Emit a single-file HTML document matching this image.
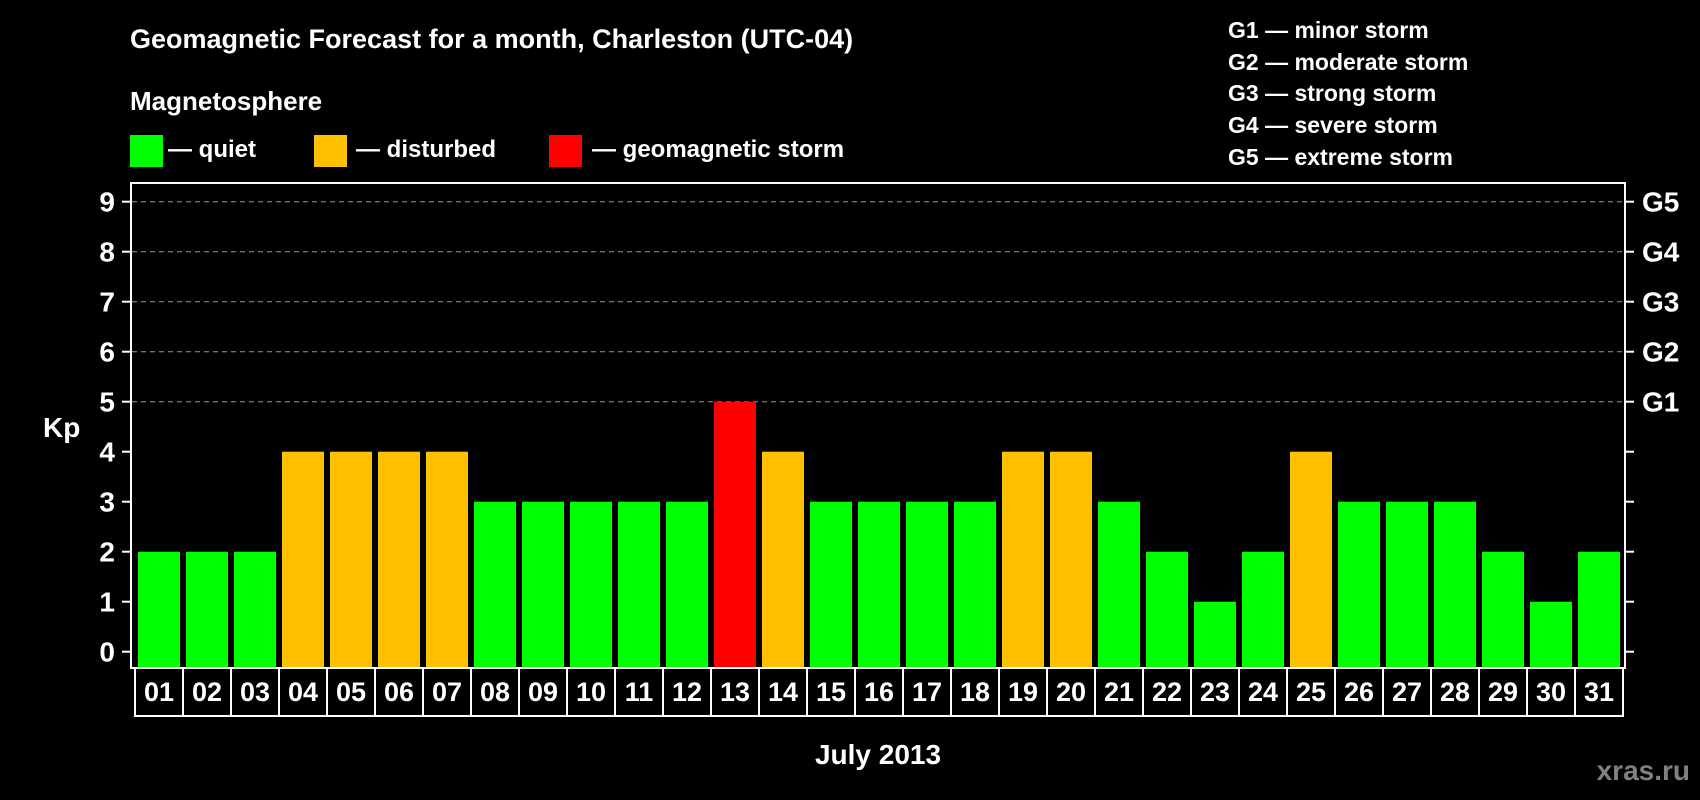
<!DOCTYPE html>
<html><head><meta charset="utf-8"><style>
html,body{margin:0;padding:0;background:#000;}
svg{display:block;font-family:"Liberation Sans",Arial,sans-serif;font-weight:bold;}
</style></head><body>
<svg id="chart" width="1700" height="800" viewBox="0 0 1700 800" xmlns="http://www.w3.org/2000/svg">
<rect width="1700" height="800" fill="#000"/>
<text x="130" y="48" fill="#fff" font-size="27">Geomagnetic Forecast for a month, Charleston (UTC-04)</text>
<text x="130" y="110" fill="#fff" font-size="26">Magnetosphere</text>
<g>
<rect x="130" y="135" width="33" height="32" fill="#00ff00"/>
<text x="168" y="157" fill="#fff" font-size="24">— quiet</text>
<rect x="314" y="135" width="33" height="32" fill="#ffc000"/>
<text x="356" y="157" fill="#fff" font-size="24">— disturbed</text>
<rect x="549" y="135" width="33" height="32" fill="#ff0000"/>
<text x="592" y="157" fill="#fff" font-size="24">— geomagnetic storm</text>
</g>
<g fill="#fff" font-size="23">
<text x="1228" y="38">G1 — minor storm</text>
<text x="1228" y="70">G2 — moderate storm</text>
<text x="1228" y="101">G3 — strong storm</text>
<text x="1228" y="133">G4 — severe storm</text>
<text x="1228" y="165">G5 — extreme storm</text>
</g>
<text x="43" y="437" fill="#fff" font-size="28">Kp</text>
<text x="878" y="764" fill="#fff" font-size="28" text-anchor="middle">July 2013</text>
<text x="1690" y="780" fill="#808080" font-size="28" text-anchor="end">xras.ru</text>
<g id="grid"></g>
<g id="bars"></g>
<g id="labels"></g>
<rect x="131" y="183" width="1494" height="485" fill="none" stroke="#fff" stroke-width="2"/>
<g id="axes"></g>
</svg>
<script>
const days = ["01","02","03","04","05","06","07","08","09","10","11","12","13","14","15","16","17","18","19","20","21","22","23","24","25","26","27","28","29","30","31"];
const kpValues = [2,2,2,4,4,4,4,3,3,3,3,3,5,4,3,3,3,3,4,4,3,2,1,2,4,3,3,3,2,1,2];
const yTicks = [0,1,2,3,4,5,6,7,8,9];
const gLabels = ["G1","G2","G3","G4","G5"];
const gLevels = [5,6,7,8,9];

const NS = "http://www.w3.org/2000/svg";
const y0 = 651.7, unit = 50, plotBottom = 668, x0 = 138, pitch = 48, bw = 42;
function yScale(v){ return y0 - v*unit; }
function xScale(i){ return x0 + i*pitch; }
function colorFor(v){ return v >= 5 ? "#ff0000" : (v >= 4 ? "#ffc000" : "#00ff00"); }
function mk(tag, attrs, parent){ const e=document.createElementNS(NS,tag); for(const k in attrs) e.setAttribute(k,attrs[k]); parent.appendChild(e); return e; }

const grid=document.getElementById('grid'), bars=document.getElementById('bars'), labels=document.getElementById('labels'), axes=document.getElementById('axes');

gLevels.forEach((lv,i)=>{
  const y=yScale(lv);
  const l=mk('line',{x1:132,x2:1624,y1:y,y2:y,stroke:'#999','stroke-width':1,'stroke-dasharray':'5,4'},grid);
  
  
  const t=mk('text',{x:1642,y:y+10,fill:'#fff','font-size':28},axes);
  t.textContent=gLabels[i];
  
  
});

yTicks.forEach(v=>{
  const y=yScale(v);
  const a=mk('line',{x1:122,x2:131,y1:y,y2:y,stroke:'#fff','stroke-width':2},axes);
  
  
  const b=mk('line',{x1:1625,x2:1634,y1:y,y2:y,stroke:'#fff','stroke-width':2},axes);
  
  
  const t=mk('text',{x:115,y:y+10,fill:'#fff','font-size':28,'text-anchor':'end'},axes);
  t.textContent=String(v);
  
  
});

kpValues.forEach((v,i)=>{
  const x=xScale(i), top=yScale(v);
  const r=mk('rect',{x:x,y:top,width:bw,height:plotBottom-top,fill:colorFor(v)},bars);
  
  
  const bx=x-3;
  const box=mk('rect',{x:bx,y:668,width:pitch,height:48,fill:'none',stroke:'#fff','stroke-width':2},labels);
  
  
  const t=mk('text',{x:bx+pitch/2,y:701,fill:'#fff','font-size':27,'text-anchor':'middle'},labels);
  t.textContent=days[i];
  
  
});
</script>
</body></html>
